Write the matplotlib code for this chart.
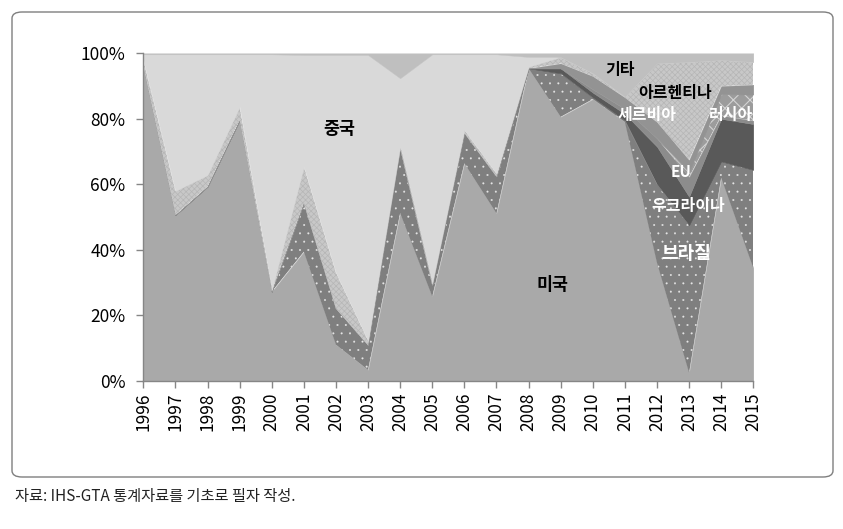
import numpy as np
import matplotlib
matplotlib.use("Agg")
import matplotlib.pyplot as plt
from matplotlib.patches import FancyBboxPatch

plt.rcParams['font.family'] = ['Noto Sans CJK KR', 'DejaVu Sans']

years = np.arange(1996, 2016)

# share of imports by source (%)
usa       = [96, 50.6, 59.3, 79.6, 27.2, 39.4, 11, 3.3, 51.2, 25.7, 66.4, 51.1, 95.4, 80.6, 86, 79, 36, 2.4, 62, 34.4]
brazil    = [0, 0, 0, 0, 0, 14.8, 11, 7.5, 19.8, 3.5, 9.2, 11.2, 0, 13.3, 0.5, 0.5, 24, 45.1, 5, 30]
ukraine   = [0, 0, 0, 0, 0, 0, 0, 0, 0, 0, 0, 0, 0, 1.5, 1.5, 2, 11.5, 8.7, 13, 14]
eu        = [0, 0, 0, 0, 0, 0, 0, 0, 0, 0, 0, 0, 0, 0, 1, 1.5, 2.5, 6, 1, 1]
russia    = [0, 0, 0, 0, 0, 0, 0, 0, 0, 0, 0, 0, 0, 0, 0, 0, 0, 1.5, 6.5, 8]
serbia    = [0, 0, 0, 0, 0, 0, 0, 0, 0, 0, 0, 0, 0, 1.5, 4, 3.5, 5, 3.7, 2.5, 3]
argentina = [2, 7.4, 3.5, 4.1, 0.5, 11.2, 11, 1.5, 0.5, 0.5, 1, 1, 0.5, 2, 1, 0.3, 18, 30, 8, 7]
china     = [1.7, 41.7, 36.9, 16.0, 72.0, 34.1, 66.5, 87.2, 20.9, 70.0, 23.1, 36.4, 3.0, 0, 0, 0, 0, 0, 0, 0]
others    = [0.3, 0.3, 0.3, 0.3, 0.3, 0.5, 0.5, 0.5, 7.6, 0.3, 0.3, 0.3, 1.1, 1.1, 6, 13.2, 3, 2.6, 2, 2.6]

series = [usa, brazil, ukraine, eu, russia, serbia, argentina, china, others]
# facecolor, hatch, hatch colour, hatch linewidth
styles = [
    ('#a9a9a9', None, None, 0),
    ('#7f7f7f', '..', '#e6e6e6', 0.2),
    ('#595959', None, None, 0),
    ('#8c8c8c', None, None, 0),
    ('#9c9c9c', 'xx', '#d4d4d4', 0.8),
    ('#939393', None, None, 0),
    ('#c8c8c8', 'xxxxxx', '#b6b6b6', 0.5),
    ('#d9d9d9', None, None, 0),
    ('#bfbfbf', None, None, 0),
]

fig = plt.figure(figsize=(8.43, 5.29), dpi=100)
ax = fig.add_axes([0.170, 0.2803, 0.7236, 0.6189])

bottom = np.zeros(len(years))
for vals, (fc, hatch, hc, hlw) in zip(series, styles):
    top = bottom + np.array(vals)
    plt.rcParams['hatch.linewidth'] = hlw if hatch else 1.0
    ax.fill_between(years, bottom, top, facecolor=fc, hatch=hatch,
                    edgecolor=hc if hc else fc, linewidth=0 if hatch else 0.3)
    bottom = top

ax.set_xlim(1996, 2015)
ax.set_ylim(0, 100)
ax.set_xticks(years)
ax.set_xticklabels([str(y) for y in years], rotation=90, fontsize=12.5)
ax.set_yticks(range(0, 101, 20))
ax.set_yticklabels([f'{v}%' for v in range(0, 101, 20)], fontsize=12.5)
for s in ['top', 'right']:
    ax.spines[s].set_visible(False)
for s in ['left', 'bottom']:
    ax.spines[s].set_color('#868686')
    ax.spines[s].set_linewidth(1.0)
ax.tick_params(axis='both', colors='#868686', labelcolor='black', length=5, width=1)
ax.tick_params(axis='y', pad=8)

# in-chart labels
ax.text(2002.1, 76.8, '중국', fontsize=12.5, fontweight='bold', ha='center', va='center')
ax.text(2008.76, 29.2, '미국', fontsize=12.5, fontweight='bold', ha='center', va='center')
ax.text(2010.85, 94.9, '기타', fontsize=11.5, fontweight='bold', ha='center', va='center')
ax.text(2012.56, 87.9, '아르헨티나', fontsize=11.5, fontweight='bold', ha='center', va='center')
ax.text(2011.69, 81.2, '세르비아', fontsize=11.5, fontweight='bold', color='white', ha='center', va='center')
ax.text(2014.3, 81.2, '러시아', fontsize=11.5, fontweight='bold', color='white', ha='center', va='center')
ax.text(2012.75, 63.8, 'EU', fontsize=11, fontweight='bold', color='white', ha='center', va='center')
ax.text(2012.97, 53.4, '우크라이나', fontsize=11.5, fontweight='bold', color='white', ha='center', va='center')
ax.text(2012.9, 39.0, '브라질', fontsize=13, fontweight='bold', color='white', ha='center', va='center')

# outer rounded frame
frame = FancyBboxPatch((12 / 843, 52 / 529), 821 / 843, 465 / 529,
                       boxstyle='round,pad=0,rounding_size=0.012',
                       transform=fig.transFigure, facecolor='none',
                       edgecolor='#7f7f7f', linewidth=1.0)
fig.patches.append(frame)

fig.text(15 / 843, 1 - 497 / 529, '자료: IHS-GTA 통계자료를 기초로 필자 작성.',
         fontsize=11, ha='left', va='center', color='#222222')

fig.savefig('out.png', dpi=100)
